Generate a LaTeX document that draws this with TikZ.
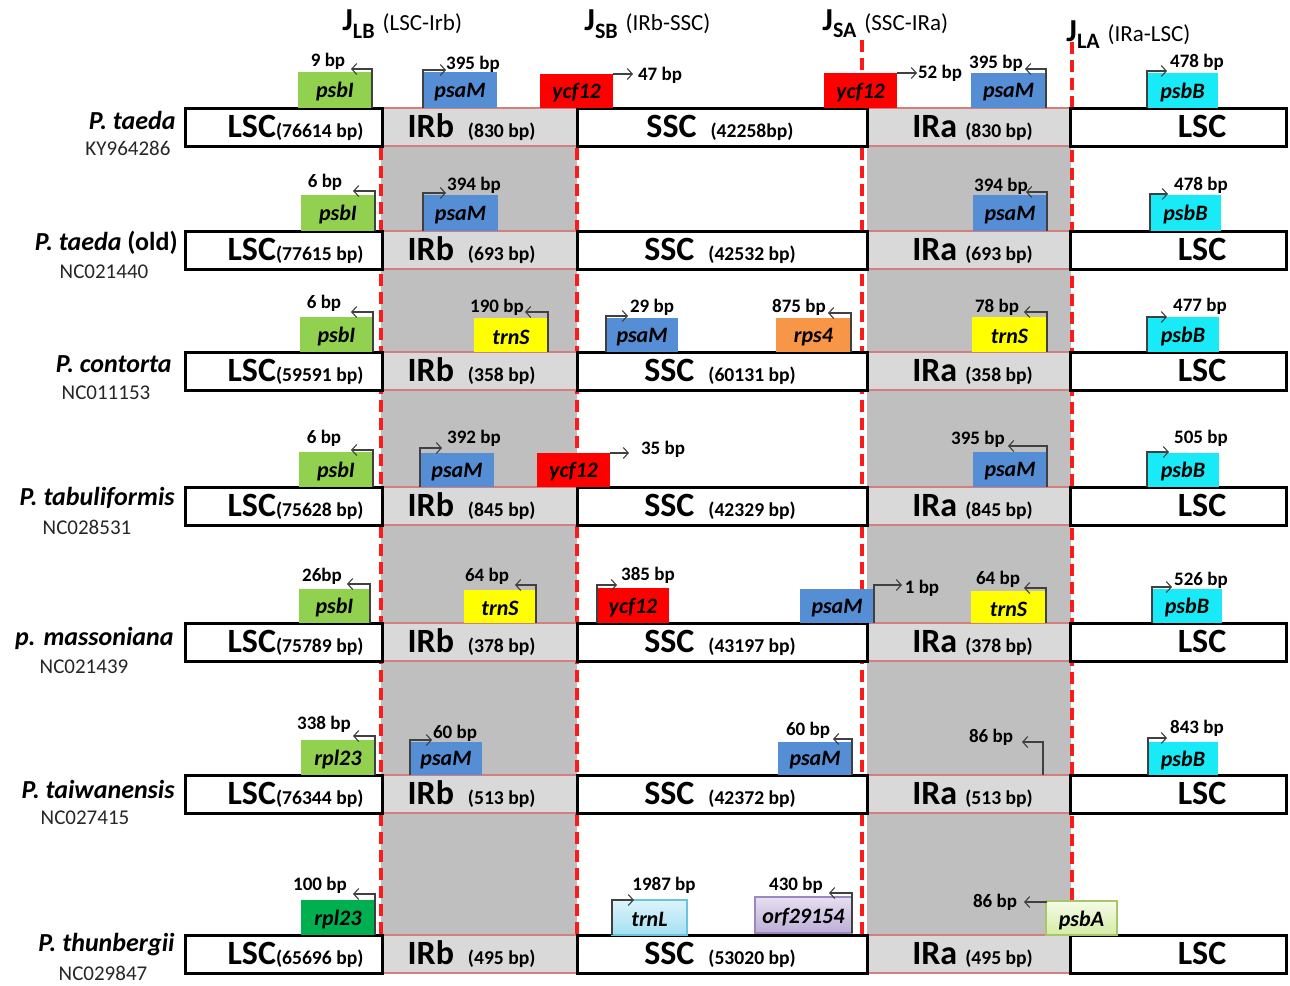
\documentclass[tikz,border=0pt]{standalone}
\usepackage{fontspec}
\setmainfont{Carlito}
\usetikzlibrary{fit,arrows.meta}
\definecolor{bandgray}{HTML}{BFBFBF}
\definecolor{irfill}{HTML}{D9D9D9}
\definecolor{irborder}{HTML}{D47F7F}
\definecolor{jred}{HTML}{FF1A1A}
\definecolor{cpsbI}{HTML}{92D050}
\definecolor{cpsaM}{HTML}{558ED5}
\definecolor{cycf}{HTML}{FF0000}
\definecolor{ctrnS}{HTML}{FFFF00}
\definecolor{crps}{HTML}{F79646}
\definecolor{cpsbB}{HTML}{18EBF7}
\definecolor{crplb}{HTML}{00B050}
\definecolor{arrowgray}{HTML}{404040}
\definecolor{trnLtop}{HTML}{DDF4FB}
\definecolor{trnLbot}{HTML}{A3E0F2}
\definecolor{trnLbd}{HTML}{6CC3DE}
\definecolor{orftop}{HTML}{E6DFF0}
\definecolor{orfbot}{HTML}{BCAED6}
\definecolor{orfbd}{HTML}{9C88BC}
\definecolor{psbAtop}{HTML}{F5FBE8}
\definecolor{psbAbot}{HTML}{D5ECA4}
\definecolor{psbAbd}{HTML}{A9C56B}
\newcommand\fMain{\fontsize{17}{18}\selectfont\bfseries}
\newcommand\fSub{\fontsize{9.8}{10}\selectfont\bfseries}
\newcommand\fGene{\fontsize{11}{11}\selectfont\bfseries\itshape}
\newcommand\fBp{\fontsize{9.5}{10}\selectfont\bfseries}
\newcommand\fSpec{\fontsize{13}{14}\selectfont\bfseries\itshape}
\newcommand\fSpecUp{\fontsize{13}{14}\selectfont\bfseries\upshape}
\newcommand\fAcc{\fontsize{10.5}{11}\selectfont}
\newcommand\fJ{\fontsize{16}{16}\selectfont\bfseries}
\newcommand\fJs{\fontsize{11}{11}\selectfont\bfseries}
\newcommand\fJt{\fontsize{11.5}{12}\selectfont\mdseries}
\tikzset{
  gbox/.style={draw=black, line width=1.5pt, fill=white, inner sep=0pt, outer sep=0pt},
  irbox/.style={draw=irborder, line width=0.6pt, fill=irfill, inner sep=0pt, outer sep=0pt},
  btext/.style={anchor=base, inner sep=0pt},
  gene/.style={inner sep=0pt, outer sep=0pt},
  genetext/.style={inner sep=0pt, font=\fGene},
  bplab/.style={inner sep=0pt, font=\fBp},
  bparrow/.style={draw=arrowgray, line width=0.55pt, -{Straight Barb[length=2.5pt,width=5.5pt]}},
  junction/.style={draw=jred, line width=1.6pt, dash pattern=on 6pt off 3pt},
  spec/.style={anchor=east, inner sep=0pt, font=\fSpec},
  acc/.style={inner sep=0pt, font=\fAcc, text=black!85},
  head/.style={anchor=base west, inner sep=0pt},
  trnLst/.style={top color=trnLtop, bottom color=trnLbot, draw=trnLbd, line width=0.6pt},
  orfst/.style={top color=orftop, bottom color=orfbot, draw=orfbd, line width=0.6pt},
  psbAst/.style={top color=psbAtop, bottom color=psbAbot, draw=psbAbd, line width=0.6pt}
}
\newcommand\genome[7]{%
  \node[irbox, fit={(382,#2) (577,#3)}] (#1irb) {};
  \node[irbox, fit={(867,#2) (1070,#3)}] (#1ira) {};
  \node[gbox, fit={(185,#2) (382,#3)}] (#1lsc) {};
  \node[gbox, fit={(577,#2) (867,#3)}] (#1ssc) {};
  \node[gbox, fit={(1070,#2) (1286,#3)}] (#1lscr) {};
  \node[btext] (#1lsct) at ([xshift=6pt,yshift=4.5pt]#1lsc.south) {\fMain LSC\fSub#4};
  \node[btext] (#1irbt) at ([xshift=-4pt,yshift=4.5pt]#1irb.south) {\fMain IRb\hspace{7pt}\fSub#5};
  \node[btext] (#1ssct) at ([xshift=-1pt,yshift=4.5pt]#1ssc.south) {\fMain SSC\hspace{7pt}\fSub#6};
  \node[btext] (#1irat) at ([xshift=2pt,yshift=4.5pt]#1ira.south) {\fMain IRa\hspace{4pt}\fSub#7};
  \node[btext] (#1lscrt) at ([xshift=12pt,yshift=4.5pt]#1lscr.south) {\fMain LSC};
}
\newcommand\gene[7]{\node[gene, #6, fit={(#2,#3) (#4,#5)}] (#1) {};
  \node[genetext] (#1t) at ([yshift=-1pt]#1.center) {#7};}
\newcommand\bparr[4]{\coordinate (#1) at (#3,#4); \draw[bparrow] (#2) |- (#1);}
\newcommand\bpl[4]{\node[bplab] (#1) at (#2,#3) {#4};}
\begin{document}
\begin{tikzpicture}[x=0.5pt,y=-0.5pt]
\useasboundingbox (0,0) rectangle (1290,985);
\fill[white] (0,0) rectangle (1290,985);
% gray IR bands
\fill[bandgray] (381,146) rectangle (577,973);
\fill[bandgray] (867,146) rectangle (1071,973);
% junction lines
\coordinate (jlbt) at (381,148); \coordinate (jlbb) at (381,935);
\coordinate (jsbt) at (577,148); \coordinate (jsbb) at (577,935);
\coordinate (jsat) at (862,40);  \coordinate (jsab) at (862,935);
\coordinate (jlat) at (1072,42); \coordinate (jlab) at (1072,935);
\draw[junction] (jlbt) -- (jlbb);
\draw[junction] (jsbt) -- (jsbb);
\draw[junction] (jsat) -- (jsab);
\draw[junction] (jlat) -- (jlab);
% headers
\node[head] (hlb) at (342,31) {\fJ J\raisebox{-0.5ex}{\fJs LB}\hspace{4pt}\fJt (LSC-Irb)};
\node[head] (hsb) at (584,31) {\fJ J\raisebox{-0.5ex}{\fJs SB}\hspace{4pt}\fJt (IRb-SSC)};
\node[head] (hsa) at (822,30) {\fJ J\raisebox{-0.5ex}{\fJs SA}\hspace{4pt}\fJt (SSC-IRa)};
\node[head] (hla) at (1066,41) {\fJ J\raisebox{-0.5ex}{\fJs LA}\hspace{4pt}\fJt (IRa-LSC)};
% genomes
\genome{r1}{108}{146}{(76614 bp)}{(830 bp)}{(42258bp)}{(830 bp)}
\genome{r2}{231}{269}{(77615 bp)}{(693 bp)}{(42532 bp)}{(693 bp)}
\genome{r3}{352}{390}{(59591 bp)}{(358 bp)}{(60131 bp)}{(358 bp)}
\genome{r4}{487}{525}{(75628 bp)}{(845 bp)}{(42329 bp)}{(845 bp)}
\genome{r5}{623}{661}{(75789 bp)}{(378 bp)}{(43197 bp)}{(378 bp)}
\genome{r6}{775}{813}{(76344 bp)}{(513 bp)}{(42372 bp)}{(513 bp)}
\genome{r7}{935}{973}{(65696 bp)}{(495 bp)}{(53020 bp)}{(495 bp)}
% species
\node[spec] (s1) at (176,120) {P. taeda};
\node[acc] (c1) at (128,148) {KY964286};
\node[spec] (s2) at (178,243) {P. taeda \fSpecUp(old)};
\node[acc] (c2) at (104,272) {NC021440};
\node[spec] (s3) at (172,364) {P. contorta};
\node[acc] (c3) at (106,393) {NC011153};
\node[spec] (s4) at (175,498) {P. tabuliformis};
\node[acc] (c4) at (87,527) {NC028531};
\node[spec] (s5) at (174,638) {p. massoniana};
\node[acc] (c5) at (84,667) {NC021439};
\node[spec] (s6) at (175,789) {P. taiwanensis};
\node[acc] (c6) at (85,818) {NC027415};
\node[spec] (s7) at (175,945) {P. thunbergii};
\node[acc] (c7) at (103,973) {NC029847};
% row 1 genes
\gene{g1a}{298}{72}{372}{108}{fill=cpsbI}{psbI}
\bparr{a1a}{g1a.south east}{351}{69} \bpl{t1a}{328}{61}{9 bp}
\gene{g1b}{423}{72}{497}{108}{fill=cpsaM}{psaM}
\bparr{a1b}{g1b.south west}{446}{70} \bpl{t1b}{473}{64}{395 bp}
\gene{g1c}{540}{74}{613}{108}{fill=cycf}{ycf12}
\bparr{a1c}{g1c.north east}{633}{74} \bpl{t1c}{660}{75}{47 bp}
\gene{g1d}{824}{73}{897}{108}{fill=cycf}{ycf12}
\bparr{a1d}{g1d.north east}{917}{73} \bpl{t1d}{940}{73}{52 bp}
\gene{g1e}{971}{73}{1046}{108}{fill=cpsaM}{psaM}
\bparr{a1e}{g1e.south east}{1025}{69} \bpl{t1e}{996}{63}{395 bp}
\gene{g1f}{1147}{73}{1218}{108}{fill=cpsbB}{psbB}
\bparr{a1f}{g1f.south west}{1167}{71} \bpl{t1f}{1197}{62}{478 bp}
% row 2 genes
\gene{g2a}{301}{195}{375}{231}{fill=cpsbI}{psbI}
\bparr{a2a}{g2a.south east}{353}{191} \bpl{t2a}{325}{182}{6 bp}
\gene{g2b}{423}{195}{498}{231}{fill=cpsaM}{psaM}
\bparr{a2b}{g2b.south west}{446}{193} \bpl{t2b}{474}{185}{394 bp}
\gene{g2c}{973}{195}{1047}{231}{fill=cpsaM}{psaM}
\bparr{a2c}{g2c.south east}{1026}{192} \bpl{t2c}{1001}{186}{394 bp}
\gene{g2d}{1150}{195}{1221}{231}{fill=cpsbB}{psbB}
\bparr{a2d}{g2d.south west}{1168}{194} \bpl{t2d}{1201}{185}{478 bp}
% row 3 genes
\gene{g3a}{300}{317}{373}{352}{fill=cpsbI}{psbI}
\bparr{a3a}{g3a.south east}{351}{312} \bpl{t3a}{324}{303}{6 bp}
\gene{g3b}{474}{318}{548}{352}{fill=ctrnS}{trnS}
\bparr{a3b}{g3b.south east}{525}{312} \bpl{t3b}{497}{307}{190 bp}
\gene{g3c}{606}{318}{678}{352}{fill=cpsaM}{psaM}
\bparr{a3c}{g3c.south west}{628}{316} \bpl{t3c}{652}{307}{29 bp}
\gene{g3d}{776}{318}{851}{352}{fill=crps}{rps4}
\bparr{a3d}{g3d.south east}{828}{313} \bpl{t3d}{799}{307}{875 bp}
\gene{g3e}{972}{317}{1047}{352}{fill=ctrnS}{trnS}
\bparr{a3e}{g3e.south east}{1024}{312} \bpl{t3e}{997}{307}{78 bp}
\gene{g3f}{1147}{317}{1219}{352}{fill=cpsbB}{psbB}
\bparr{a3f}{g3f.south west}{1167}{317} \bpl{t3f}{1200}{306}{477 bp}
% row 4 genes
\gene{g4a}{299}{452}{373}{487}{fill=cpsbI}{psbI}
\bparr{a4a}{g4a.south east}{351}{450} \bpl{t4a}{324}{438}{6 bp}
\gene{g4b}{420}{453}{494}{487}{fill=cpsaM}{psaM}
\bparr{a4b}{g4b.south west}{442}{448} \bpl{t4b}{474}{438}{392 bp}
\gene{g4c}{537}{453}{610}{487}{fill=cycf}{ycf12}
\bparr{a4c}{g4c.north east}{629}{453} \bpl{t4c}{663}{449}{35 bp}
\gene{g4d}{973}{452}{1047}{487}{fill=cpsaM}{psaM}
\bparr{a4d}{g4d.south east}{1008}{446} \bpl{t4d}{978}{439}{395 bp}
\gene{g4e}{1147}{453}{1219}{487}{fill=cpsbB}{psbB}
\bparr{a4e}{g4e.south west}{1169}{452} \bpl{t4e}{1201}{438}{505 bp}
% row 5 genes
\gene{g5a}{299}{589}{370}{623}{fill=cpsbI}{psbI}
\bparr{a5a}{g5a.south east}{347}{584} \bpl{t5a}{322}{576}{26bp}
\gene{g5b}{464}{590}{536}{623}{fill=ctrnS}{trnS}
\bparr{a5b}{g5b.south east}{515}{585} \bpl{t5b}{487}{576}{64 bp}
\gene{g5c}{597}{588}{669}{623}{fill=cycf}{ycf12}
\bparr{a5c}{g5c.south west}{617}{585} \bpl{t5c}{648}{575}{385 bp}
\gene{g5d}{800}{589}{874}{623}{fill=cpsaM}{psaM}
\bparr{a5d}{g5d.south east}{902}{585} \bpl{t5d}{922}{588}{1 bp}
\gene{g5e}{971}{591}{1046}{623}{fill=ctrnS}{trnS}
\bparr{a5e}{g5e.south east}{1024}{588} \bpl{t5e}{998}{579}{64 bp}
\gene{g5f}{1152}{589}{1222}{623}{fill=cpsbB}{psbB}
\bparr{a5f}{g5f.south west}{1172}{587} \bpl{t5f}{1201}{580}{526 bp}
% row 6 genes
\gene{g6a}{301}{740}{375}{775}{fill=cpsbI}{rpl23}
\bparr{a6a}{g6a.south east}{353}{736} \bpl{t6a}{324}{724}{338 bp}
\gene{g6b}{410}{742}{482}{775}{fill=cpsaM}{psaM}
\bparr{a6b}{g6b.south west}{432}{740} \bpl{t6b}{455}{733}{60 bp}
\gene{g6c}{778}{742}{852}{775}{fill=cpsaM}{psaM}
\bparr{a6c}{g6c.south east}{833}{739} \bpl{t6c}{808}{730}{60 bp}
\coordinate (r6irs) at (1043,775);
\bparr{a6i}{r6irs}{1022}{742} \bpl{t6i}{991}{737}{86 bp}
\gene{g6d}{1148}{742}{1218}{775}{fill=cpsbB}{psbB}
\bparr{a6d}{g6d.south west}{1167}{738} \bpl{t6d}{1197}{728}{843 bp}
% row 7 genes
\gene{g7a}{301}{900}{375}{935}{fill=crplb}{rpl23}
\bparr{a7a}{g7a.south east}{353}{894} \bpl{t7a}{320}{885}{100 bp}
\gene{g7b}{612}{900}{687}{935}{trnLst}{trnL}
\bparr{a7b}{g7b.south west}{634}{900} \bpl{t7b}{664}{885}{1987 bp}
\gene{g7c}{755}{897}{852}{933}{orfst}{orf29154}
\bparr{a7c}{g7c.south east}{829}{893} \bpl{t7c}{796}{885}{430 bp}
\gene{g7d}{1046}{901}{1117}{935}{psbAst}{psbA}
\bparr{a7d}{g7d.north west}{1024}{902} \bpl{t7d}{995}{902}{86 bp}
\end{tikzpicture}
\end{document}
